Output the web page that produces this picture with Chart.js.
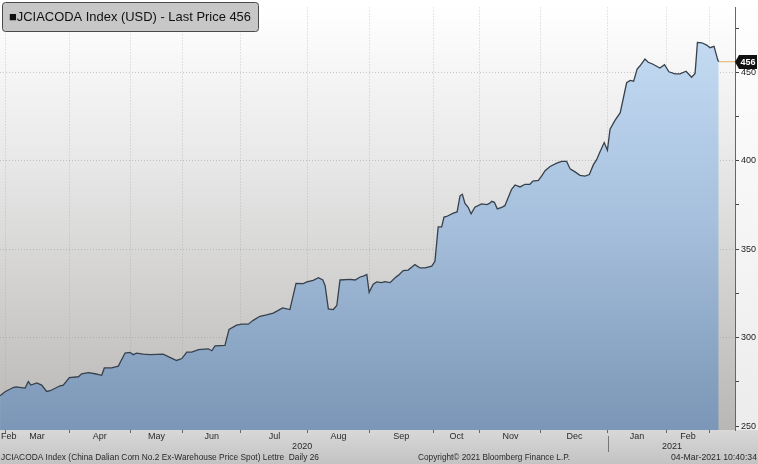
<!DOCTYPE html>
<html>
<head>
<meta charset="utf-8">
<script src="https://cdn.jsdelivr.net/npm/chart.js@4"></script>
<style>
  html, body { margin: 0; padding: 0; background: #fff; }
  #chart { display: block; }
</style>
</head>
<body>
<canvas id="chart" width="758" height="464"></canvas>
<script>
// --- 1. DATA ---
// x = trading day counted from 1-Mar-2020 (index 0)
const days = [-1.7, 0, 2.8, 3.8, 6.9, 8.0, 8.9, 10.9, 12.6, 14.3, 15.5, 18.9, 20.0, 22.1, 25.2, 26.3, 28.6, 30.9, 33.2, 34.1,
  36.6, 38.9, 41.2, 42.9, 44.0, 45.2, 47.5, 49.8, 54.3, 56.6, 58.9, 60.7, 62.4, 64.1, 66.4, 69.8, 71.0, 72.1, 75.5, 76.9,
  79.5, 81.3, 83.5, 85.2, 87.5, 89.8, 92.1, 93.8, 95.3, 97.8, 99.9, 102.4, 103.6, 105.8, 107.6, 109.1, 109.9, 111.0, 112.7, 113.9,
  115.0, 118.4, 120.2, 121.9, 123.0, 124.2, 125.0, 126.4, 127.6, 129.3, 130.4, 132.2, 133.9, 135.0, 136.7, 138.4, 140.7, 142.5, 144.2, 146.5,
  147.6, 148.7, 149.9, 150.7, 151.6, 153.9, 155.2, 156.2, 157.0, 157.9, 159.0, 160.0, 161.3, 163.6, 165.4, 166.3, 167.1, 168.0, 169.0, 170.5,
  171.6, 173.9, 175.1, 176.8, 178.5, 180.2, 181.2, 183.1, 184.2, 185.4, 187.1, 189.4, 191.1, 192.8, 194.0, 195.7, 197.4, 199.1, 200.6, 202.0,
  203.1, 204.3, 205.7, 206.8, 207.7, 209.4, 211.2, 213.4, 214.6, 215.8, 217.0, 218.0, 219.7, 220.8, 222.3, 224.8, 226.4, 227.9, 230.0, 231.7,
  233.8, 235.7, 236.9, 237.7, 239.2, 240.9, 242.0, 243.4, 244.7, 245];
const prices = [267.2, 269.4, 271.8, 272.2, 271.5, 275.2, 273.2, 274.4, 273.2, 269.6, 270.0, 272.8, 273.2, 277.4, 277.9, 279.6, 280.2, 279.6, 278.7, 282.9,
  282.9, 283.9, 291.3, 291.7, 290.4, 291.3, 290.7, 290.4, 290.7, 288.9, 287.1, 288.2, 291.8, 291.8, 293.2, 293.7, 292.6, 295.4, 295.6, 304.6,
  307.1, 307.6, 307.6, 309.8, 312.1, 312.9, 313.9, 315.4, 316.8, 315.9, 330.7, 330.6, 331.5, 332.4, 333.9, 332.6, 329.4, 316.3, 315.9, 318.2,
  332.6, 332.9, 332.6, 334.3, 334.8, 335.7, 325.6, 330.2, 331.5, 331.1, 331.7, 331.1, 333.9, 335.2, 337.9, 338.2, 341.3, 339.4, 339.4, 340.4,
  343.2, 362.6, 362.6, 368.2, 368.5, 370.4, 371.1, 380.2, 381.1, 375.9, 373.7, 370.0, 373.7, 375.6, 375.2, 375.9, 377.1, 376.5, 372.8, 373.7,
  374.6, 383.9, 386.3, 385.2, 386.7, 386.7, 388.5, 388.9, 391.3, 394.4, 396.8, 398.7, 399.6, 399.6, 395.4, 393.7, 391.8, 391.3, 392.2, 397.8,
  400.6, 405.2, 410.3, 405.9, 417.8, 422.8, 427.2, 444.1, 445.4, 445.0, 451.9, 453.7, 457.5, 455.7, 454.7, 452.4, 454.3, 450.3, 449.1, 449.1,
  450.6, 447.2, 449.4, 466.9, 466.7, 465.4, 463.9, 464.7, 456.9, 456.0];
const lastPrice = 456;

// month names and the trading day each month starts on
const monthNames = ['Feb', 'Mar', 'Apr', 'May', 'Jun', 'Jul', 'Aug', 'Sep', 'Oct', 'Nov', 'Dec', 'Jan', 'Feb', 'Mar'];
const monthStarts = [-20, 0, 22, 43, 61, 81, 104, 125, 147, 163, 184, 207, 227, 242];
const yearNames = ['2020', '2021'];
const yearAt = [102, 229];
const yearBreak = 207;
const yTicks = [250, 275, 300, 325, 350, 375, 400, 425, 450, 475];

const titleText = '\u25A0JCIACODA Index (USD) - Last Price 456';
const footLeft = 'JCIACODA Index (China Dalian Corn No.2 Ex-Warehouse Price Spot) Lettre  Daily 26';
const footMid = 'Copyright\u00A9 2021 Bloomberg Finance L.P.';
const footRight = '04-Mar-2021 10:40:34';

const FONT = '"Liberation Sans", Arial, sans-serif';

// --- 2. PLUGINS ---
const backgroundPlugin = {
  id: 'bg',
  beforeDraw(chart) {
    const { ctx, chartArea: a, width, height } = chart;
    ctx.save();
    let g = ctx.createLinearGradient(0, a.top, 0, a.bottom);
    g.addColorStop(0, '#ffffff');
    g.addColorStop(0.35, '#e9e9e9');
    g.addColorStop(1, '#b9b7b5');
    ctx.fillStyle = g;
    ctx.fillRect(0, 0, a.right, a.bottom);
    // right axis area
    g = ctx.createLinearGradient(0, 0, 0, a.bottom);
    g.addColorStop(0, '#ffffff');
    g.addColorStop(1, '#ececec');
    ctx.fillStyle = g;
    ctx.fillRect(a.right, 0, width - a.right, a.bottom);
    // bottom label area
    g = ctx.createLinearGradient(0, a.bottom, 0, height);
    g.addColorStop(0, '#d8d8d8');
    g.addColorStop(1, '#c3c3c3');
    ctx.fillStyle = g;
    ctx.fillRect(0, a.bottom, width, height - a.bottom);
    ctx.restore();
  }
};

const overlayPlugin = {
  id: 'overlay',
  afterDraw(chart) {
    const { ctx, chartArea: a, scales: { x, y }, width } = chart;
    ctx.save();

    // legend box
    ctx.beginPath();
    ctx.roundRect(2.5, 2.5, 256, 29, 3);
    ctx.fillStyle = '#c7c7c7';
    ctx.fill();
    ctx.strokeStyle = '#4a4a4a';
    ctx.lineWidth = 1;
    ctx.stroke();
    ctx.fillStyle = '#111';
    ctx.font = '13px ' + FONT;
    ctx.textBaseline = 'middle';
    ctx.textAlign = 'left';
    ctx.fillText(titleText, 9, 17.5, 242);

    // month labels
    ctx.font = '9px ' + FONT;
    ctx.fillStyle = '#2a2a2a';
    for (let i = 0; i < monthNames.length - 1; i++) {
      const from = Math.max(monthStarts[i], x.min);
      const to = monthStarts[i + 1];
      if (i === 0) {
        ctx.textAlign = 'left';
        ctx.fillText(monthNames[i], 1, a.bottom + 7);
      } else {
        ctx.textAlign = 'center';
        ctx.fillText(monthNames[i], x.getPixelForValue((from + to) / 2), a.bottom + 7);
      }
    }
    // years
    ctx.textAlign = 'center';
    yearNames.forEach((t, i) => ctx.fillText(t, x.getPixelForValue(yearAt[i]), a.bottom + 17));
    const bx = Math.round(x.getPixelForValue(yearBreak)) + 0.5;
    ctx.strokeStyle = '#777';
    ctx.beginPath();
    ctx.moveTo(bx, a.bottom + 6);
    ctx.lineTo(bx, a.bottom + 22);
    ctx.stroke();

    // footer
    ctx.textAlign = 'left';
    ctx.fillText(footLeft, 1, 458, 318);
    ctx.fillText(footMid, 418, 458, 152);
    ctx.textAlign = 'right';
    ctx.fillText(footRight, width - 1, 458, 86);

    // last price tag
    const py = Math.round(y.getPixelForValue(lastPrice));
    ctx.beginPath();
    ctx.moveTo(a.right, py);
    ctx.lineTo(a.right + 4, py - 7);
    ctx.lineTo(width - 1, py - 7);
    ctx.lineTo(width - 1, py + 7);
    ctx.lineTo(a.right + 4, py + 7);
    ctx.closePath();
    ctx.fillStyle = '#111';
    ctx.fill();
    ctx.fillStyle = '#fff';
    ctx.font = 'bold 9px ' + FONT;
    ctx.textAlign = 'center';
    ctx.fillText(String(lastPrice), (a.right + 4 + width - 1) / 2, py + 0.5);

    ctx.restore();
  }
};

// --- 3. CHART ---
const ctx = document.getElementById('chart').getContext('2d');
new Chart(ctx, {
  type: 'line',
  data: {
    datasets: [{
      data: days.map((d, i) => ({ x: d, y: prices[i] })),
      borderColor: '#37414c',
      borderWidth: 1.3,
      pointRadius: 0,
      tension: 0,
      fill: 'start',
      backgroundColor: (context) => {
        const { ctx, chartArea } = context.chart;
        if (!chartArea) return 'rgba(0,0,0,0)';
        const g = ctx.createLinearGradient(0, chartArea.top, 0, chartArea.bottom);
        g.addColorStop(0, '#c9dff6');
        g.addColorStop(0.5, '#a6c0dd');
        g.addColorStop(1, '#7b96b6');
        return g;
      }
    }, {
      data: [{ x: days[days.length - 1], y: lastPrice }, { x: 251, y: lastPrice }],
      borderColor: '#e2b06a',
      borderWidth: 1,
      pointRadius: 0,
      fill: false
    }]
  },
  options: {
    responsive: false,
    animation: false,
    devicePixelRatio: 1,
    layout: { padding: 0 },
    plugins: { legend: { display: false }, tooltip: { enabled: false } },
    scales: {
      x: {
        type: 'linear',
        min: -1.72,
        max: 250.6,
        z: 1,
        afterBuildTicks: (s) => { s.ticks = monthStarts.filter(v => v >= 0).map(v => ({ value: v })); },
        afterFit: (s) => { s.height = 34; },
        ticks: { display: false },
        grid: { color: 'rgba(150,150,150,0.45)', drawTicks: true, tickLength: 3, tickColor: '#666' },
        border: { display: false, dash: [1, 2] }
      },
      y: {
        type: 'linear',
        position: 'right',
        min: 247.8,
        max: 486.7,
        z: 1,
        afterBuildTicks: (s) => { s.ticks = yTicks.map(v => ({ value: v })); },
        afterFit: (s) => { s.width = 23; },
        ticks: {
          callback: (v) => (v % 50 === 0 ? v : ''),
          color: '#222',
          font: { size: 9, family: FONT },
          padding: 2
        },
        grid: {
          color: (c) => (c.tick && c.tick.value % 50 === 0 && c.tick.value > 250 ? 'rgba(150,150,150,0.5)' : 'rgba(0,0,0,0)'),
          tickColor: '#444',
          tickLength: 4
        },
        border: { display: true, color: '#666', dash: [1, 2] }
      }
    }
  },
  plugins: [backgroundPlugin, overlayPlugin]
});
</script>
</body>
</html>
